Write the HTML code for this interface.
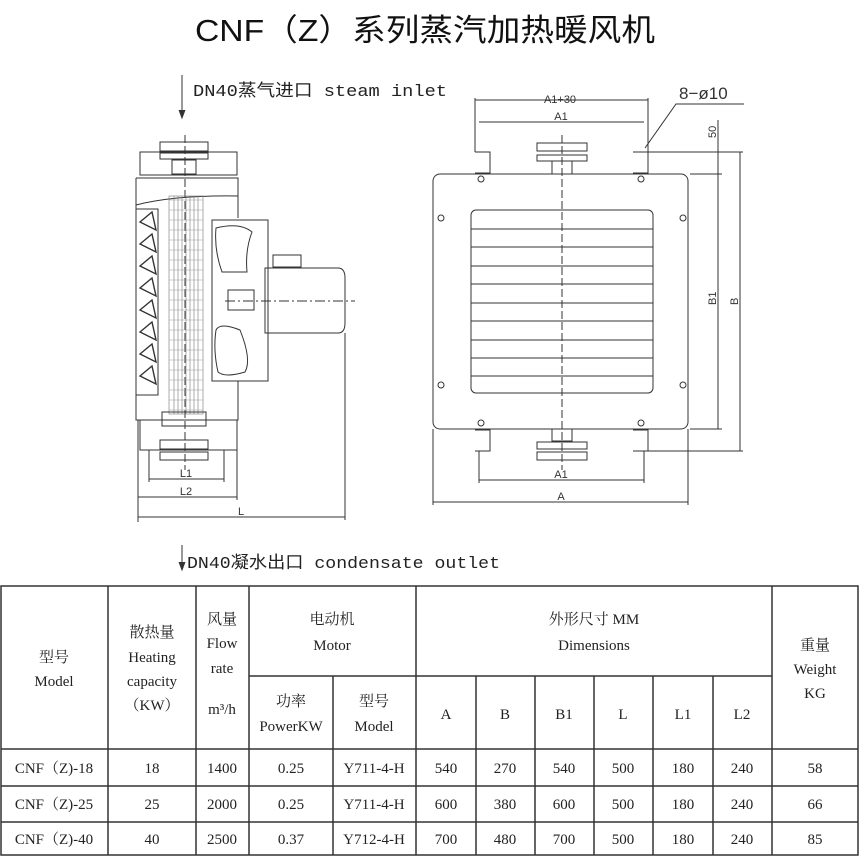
<!DOCTYPE html>
<html><head><meta charset="utf-8"><style>
body{margin:0;background:#fff;width:860px;height:864px;overflow:hidden;position:relative}
svg{position:absolute;left:0;top:0}
.t{font-family:"Liberation Serif","Noto Serif CJK SC",serif;font-size:15px;fill:#222}
.d{font-family:"Liberation Sans",sans-serif;font-size:11px;fill:#333}
</style></head><body>
<svg width="860" height="864" viewBox="0 0 860 864">
<text x="195" y="41" textLength="460" lengthAdjust="spacingAndGlyphs" font-family="Liberation Sans,'Noto Sans CJK SC',sans-serif" font-size="31" fill="#111">CNF（Z）系列蒸汽加热暖风机</text>
<g stroke="#333" fill="none" stroke-width="1">
<line x1="182" y1="75" x2="182" y2="118"/><path d="M179 110 L182 118 L185 110" fill="#333"/>
<line x1="182" y1="545" x2="182" y2="570"/><path d="M179 562 L182 570 L185 562" fill="#333"/>
<line x1="185" y1="135" x2="185" y2="470" stroke-dasharray="8 3"/>
<rect x="160" y="142" width="48" height="9"/><rect x="160" y="153" width="48" height="6"/>
<rect x="172" y="160" width="24" height="14"/>
<rect x="140" y="152" width="97" height="23"/>
<path d="M136 178 L238 178 L238 218 M136 178 L136 420 L238 420 L238 381 M136 205 Q175 195 238 196"/>
<rect x="136" y="209" width="22" height="186"/>
<g stroke-width="1.4">
<path d="M140 222 L152 212 L156 230 Z M140 244 L152 234 L156 252 Z M140 266 L152 256 L156 274 Z M140 288 L152 278 L156 296 Z M140 310 L152 300 L156 318 Z M140 332 L152 322 L156 340 Z M140 354 L152 344 L156 362 Z M140 376 L152 366 L156 384 Z"/>
</g>
<g stroke="#777" stroke-width="0.6">
<rect x="169" y="196" width="34" height="218"/>
<line x1="174" y1="196" x2="174" y2="414"/><line x1="178" y1="196" x2="178" y2="414"/><line x1="182" y1="196" x2="182" y2="414"/><line x1="186" y1="196" x2="186" y2="414"/><line x1="190" y1="196" x2="190" y2="414"/><line x1="194" y1="196" x2="194" y2="414"/><line x1="198" y1="196" x2="198" y2="414"/>
</g>
<path d="M169 200 H203 M169 210 H203 M169 220 H203 M169 230 H203 M169 240 H203 M169 250 H203 M169 260 H203 M169 270 H203 M169 280 H203 M169 290 H203 M169 300 H203 M169 310 H203 M169 320 H203 M169 330 H203 M169 340 H203 M169 350 H203 M169 360 H203 M169 370 H203 M169 380 H203 M169 390 H203 M169 400 H203 M169 410 H203" stroke="#999" stroke-width="0.5"/>
<rect x="212" y="220" width="56" height="161"/>
<path d="M216 228 Q240 222 252 232 Q245 250 247 272 L222 272 Q214 250 216 228 Z"/>
<path d="M216 330 Q220 322 240 330 Q252 360 245 372 Q225 378 218 372 Q213 350 216 330 Z"/>
<rect x="228" y="290" width="26" height="20"/>
<path d="M265 268 H338 Q345 268 345 278 V323 Q345 333 338 333 H265 Z"/>
<rect x="273" y="255" width="28" height="12"/>
<line x1="225" y1="301" x2="355" y2="301" stroke-dasharray="10 3 2 3"/>
<rect x="140" y="420" width="97" height="30"/>
<rect x="162" y="412" width="44" height="14"/>
<rect x="160" y="440" width="48" height="9"/><rect x="160" y="452" width="48" height="8"/>
<line x1="149" y1="450" x2="149" y2="482"/><line x1="224" y1="450" x2="224" y2="482"/>
<line x1="138" y1="420" x2="138" y2="522"/><line x1="237" y1="450" x2="237" y2="500"/><line x1="345" y1="333" x2="345" y2="520"/>
<line x1="149" y1="479" x2="224" y2="479"/><line x1="138" y1="497" x2="237" y2="497"/><line x1="138" y1="517" x2="345" y2="517"/>
<rect x="433" y="174" width="255" height="255" rx="7"/>
<rect x="471" y="210" width="182" height="183" rx="5"/>
<path d="M471 229H653M471 247H653M471 266H653M471 284H653M471 303H653M471 321H653M471 340H653M471 358H653M471 376H653"/>
<line x1="562" y1="135" x2="562" y2="470" stroke-dasharray="8 3"/>
<rect x="537" y="143" width="50" height="8"/><rect x="537" y="155" width="50" height="6"/><rect x="552" y="161" width="20" height="13"/>
<rect x="552" y="429" width="20" height="12"/><rect x="537" y="442" width="50" height="7"/><rect x="537" y="452" width="50" height="8"/>
<path d="M475 152 H490 V173 H475 M633 152 H648 V173 H633 M475 430 H490 V451 H475 M633 430 H648 V451 H633"/>
<circle cx="481" cy="179" r="3"/><circle cx="641" cy="179" r="3"/><circle cx="441" cy="218" r="3"/><circle cx="683" cy="218" r="3"/><circle cx="441" cy="385" r="3"/><circle cx="683" cy="385" r="3"/><circle cx="481" cy="423" r="3"/><circle cx="641" cy="423" r="3"/>
<line x1="475" y1="98" x2="475" y2="152"/><line x1="648" y1="98" x2="648" y2="152"/>
<line x1="475" y1="100" x2="648" y2="100"/><line x1="479" y1="122" x2="644" y2="122"/>
<line x1="479" y1="451" x2="479" y2="483"/><line x1="644" y1="451" x2="644" y2="483"/>
<line x1="479" y1="480" x2="644" y2="480"/>
<line x1="433" y1="429" x2="433" y2="505"/><line x1="688" y1="429" x2="688" y2="505"/>
<line x1="433" y1="502" x2="688" y2="502"/>
<line x1="648" y1="152" x2="743" y2="152"/><line x1="690" y1="174" x2="722" y2="174"/><line x1="690" y1="429" x2="722" y2="429"/><line x1="648" y1="451" x2="743" y2="451"/>
<line x1="718" y1="120" x2="718" y2="429"/><line x1="740" y1="152" x2="740" y2="451"/>
<path d="M645 148 L676 104 H744"/>
</g>
<text x="560" y="103" class="d" text-anchor="middle">A1+30</text>
<text x="561" y="120" class="d" text-anchor="middle">A1</text>
<text x="561" y="478" class="d" text-anchor="middle">A1</text>
<text x="561" y="500" class="d" text-anchor="middle">A</text>
<text x="679" y="99" font-family="Liberation Sans,sans-serif" font-size="17" fill="#333">8−ø10</text>
<text class="d" transform="translate(716,138) rotate(-90)">50</text>
<text class="d" transform="translate(716,305) rotate(-90)">B1</text>
<text class="d" transform="translate(738,305) rotate(-90)">B</text>
<text x="186" y="477" class="d" text-anchor="middle">L1</text>
<text x="186" y="495" class="d" text-anchor="middle">L2</text>
<text x="241" y="515" class="d" text-anchor="middle">L</text>
<text x="193" y="96" textLength="254" lengthAdjust="spacingAndGlyphs" font-family="Liberation Mono,'Noto Sans CJK SC',monospace" font-size="17" fill="#222">DN40蒸气进口 steam inlet</text>
<text x="187" y="568" textLength="313" lengthAdjust="spacingAndGlyphs" font-family="Liberation Mono,'Noto Sans CJK SC',monospace" font-size="17" fill="#222">DN40凝水出口 condensate outlet</text>
<g stroke="#333" stroke-width="1.5" fill="none">
<rect x="1" y="586" width="857" height="269"/>
<line x1="1" y1="749" x2="858" y2="749"/><line x1="1" y1="786" x2="858" y2="786"/><line x1="1" y1="822" x2="858" y2="822"/>
<line x1="249" y1="676" x2="772" y2="676"/>
<line x1="108" y1="586" x2="108" y2="855"/><line x1="196" y1="586" x2="196" y2="855"/><line x1="249" y1="586" x2="249" y2="855"/><line x1="333" y1="676" x2="333" y2="855"/><line x1="416" y1="586" x2="416" y2="855"/>
<line x1="476" y1="676" x2="476" y2="855"/><line x1="535" y1="676" x2="535" y2="855"/><line x1="594" y1="676" x2="594" y2="855"/><line x1="653" y1="676" x2="653" y2="855"/><line x1="713" y1="676" x2="713" y2="855"/><line x1="772" y1="586" x2="772" y2="855"/>
</g>
<g class="t" text-anchor="middle">
<text x="54" y="662" class="t">型号</text><text x="54" y="686" class="t">Model</text>
<text x="152" y="637" class="t">散热量</text><text x="152" y="662" class="t">Heating</text><text x="152" y="686" class="t">capacity</text><text x="152" y="710" class="t">（KW）</text>
<text x="222" y="624" class="t">风量</text><text x="222" y="648" class="t">Flow</text><text x="222" y="673" class="t">rate</text><text x="222" y="714" class="t">m³/h</text>
<text x="332" y="624" class="t">电动机</text><text x="332" y="650" class="t">Motor</text>
<text x="291" y="706" class="t">功率</text><text x="291" y="731" class="t">PowerKW</text>
<text x="374" y="706" class="t">型号</text><text x="374" y="731" class="t">Model</text>
<text x="594" y="624" class="t">外形尺寸 MM</text><text x="594" y="650" class="t">Dimensions</text>
<text x="815" y="650" class="t">重量</text><text x="815" y="674" class="t">Weight</text><text x="815" y="698" class="t">KG</text>
<text x="446" y="719" class="t">A</text><text x="505" y="719" class="t">B</text><text x="564" y="719" class="t">B1</text><text x="623" y="719" class="t">L</text><text x="683" y="719" class="t">L1</text><text x="742" y="719" class="t">L2</text>
</g>
<g class="t" text-anchor="middle">
<text x="54" y="773" class="t">CNF（Z)-18</text><text x="152" y="773" class="t">18</text><text x="222" y="773" class="t">1400</text><text x="291" y="773" class="t">0.25</text><text x="374" y="773" class="t">Y711-4-H</text><text x="446" y="773" class="t">540</text><text x="505" y="773" class="t">270</text><text x="564" y="773" class="t">540</text><text x="623" y="773" class="t">500</text><text x="683" y="773" class="t">180</text><text x="742" y="773" class="t">240</text><text x="815" y="773" class="t">58</text>
<text x="54" y="809" class="t">CNF（Z)-25</text><text x="152" y="809" class="t">25</text><text x="222" y="809" class="t">2000</text><text x="291" y="809" class="t">0.25</text><text x="374" y="809" class="t">Y711-4-H</text><text x="446" y="809" class="t">600</text><text x="505" y="809" class="t">380</text><text x="564" y="809" class="t">600</text><text x="623" y="809" class="t">500</text><text x="683" y="809" class="t">180</text><text x="742" y="809" class="t">240</text><text x="815" y="809" class="t">66</text>
<text x="54" y="844" class="t">CNF（Z)-40</text><text x="152" y="844" class="t">40</text><text x="222" y="844" class="t">2500</text><text x="291" y="844" class="t">0.37</text><text x="374" y="844" class="t">Y712-4-H</text><text x="446" y="844" class="t">700</text><text x="505" y="844" class="t">480</text><text x="564" y="844" class="t">700</text><text x="623" y="844" class="t">500</text><text x="683" y="844" class="t">180</text><text x="742" y="844" class="t">240</text><text x="815" y="844" class="t">85</text>
</g>
</svg>
</body></html>
